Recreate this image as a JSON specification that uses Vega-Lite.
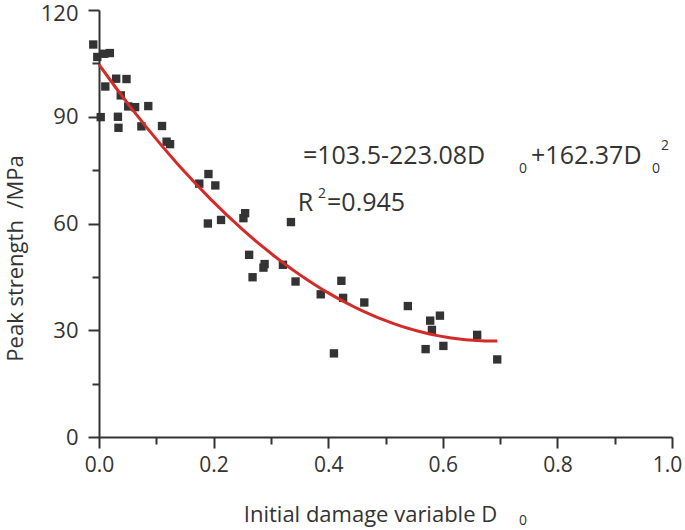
{
  "$schema": "https://vega.github.io/schema/vega-lite/v6.json",
  "autosize": "none",
  "width": 573,
  "height": 427,
  "padding": {"left": 99, "top": 10, "right": 13, "bottom": 93},
  "background": "white",
  "config": {
    "view": {"stroke": null},
    "font": "Open Sans",
    "axis": {"grid": false, "labelFont": "Open Sans", "titleFont": "Open Sans", "labelFontSize": 22, "titleFontSize": 22, "labelColor": "#333333", "titleColor": "#333333", "domainColor": "#333333", "tickColor": "#333333", "domainWidth": 2, "tickWidth": 2, "titleFontWeight": "normal", "labelFlush": false, "labelOverlap": false}
  },
  "datasets": {
    "pts": [
      {"x": -0.010, "y": 110.3}, {"x": -0.003, "y": 106.8}, {"x": 0.009, "y": 107.7}, {"x": 0.019, "y": 107.9},
      {"x": 0.003, "y": 89.9}, {"x": 0.011, "y": 98.5}, {"x": 0.030, "y": 100.7}, {"x": 0.048, "y": 100.6},
      {"x": 0.038, "y": 96.0}, {"x": 0.051, "y": 92.9}, {"x": 0.063, "y": 92.7}, {"x": 0.086, "y": 93.0},
      {"x": 0.033, "y": 90.0}, {"x": 0.034, "y": 86.9}, {"x": 0.074, "y": 87.3}, {"x": 0.110, "y": 87.4},
      {"x": 0.118, "y": 83.0}, {"x": 0.124, "y": 82.3}, {"x": 0.191, "y": 73.9}, {"x": 0.175, "y": 71.2},
      {"x": 0.203, "y": 70.7}, {"x": 0.255, "y": 62.9}, {"x": 0.252, "y": 61.5}, {"x": 0.190, "y": 60.0},
      {"x": 0.213, "y": 61.0}, {"x": 0.335, "y": 60.4}, {"x": 0.262, "y": 51.2}, {"x": 0.289, "y": 48.6},
      {"x": 0.287, "y": 47.6}, {"x": 0.268, "y": 44.9}, {"x": 0.321, "y": 48.4}, {"x": 0.343, "y": 43.7},
      {"x": 0.423, "y": 43.9}, {"x": 0.387, "y": 40.1}, {"x": 0.426, "y": 39.1}, {"x": 0.463, "y": 37.8},
      {"x": 0.539, "y": 36.8}, {"x": 0.595, "y": 34.1}, {"x": 0.578, "y": 32.7}, {"x": 0.581, "y": 30.1},
      {"x": 0.660, "y": 28.7}, {"x": 0.410, "y": 23.5}, {"x": 0.570, "y": 24.7}, {"x": 0.601, "y": 25.6},
      {"x": 0.695, "y": 21.8}
    ],
    "bigText": [
      {"x": 0.356, "y": 76.7, "t": "=103.5-223.08D"},
      {"x": 0.754, "y": 76.7, "t": "+162.37D"},
      {"x": 0.347, "y": 63.5, "t": "R"},
      {"x": 0.398, "y": 63.5, "t": "=0.945"}
    ],
    "smallText": [
      {"x": 0.733, "y": 74.1, "t": "0"},
      {"x": 0.965, "y": 74.1, "t": "0"},
      {"x": 0.981, "y": 80.6, "t": "2"},
      {"x": 0.382, "y": 67.2, "t": "2"},
      {"x": 0.733, "y": -24.8, "t": "0"}
    ]
  },
  "encoding": {
    "x": {"field": "x", "type": "quantitative", "scale": {"domain": [0, 1], "nice": false, "zero": false},
      "axis": {"title": "Initial damage variable D", "values": [0, 0.1, 0.2, 0.3, 0.4, 0.5, 0.6, 0.7, 0.8, 0.9, 1.0], "format": ".1f",
        "labelExpr": "round(datum.value*10) % 2 === 0 ? datum.label : ''",
        "labelFontSize": 21,
        "labelOffset": {"condition": {"test": "datum.value > 0.95", "value": -5}, "value": 0},
        "tickSize": {"condition": {"test": "round(datum.value*10) % 2 === 0", "value": 11}, "value": 7},
        "labelPadding": 6, "titleX": 271, "titleY": 84, "titleAlign": "center", "titleBaseline": "alphabetic"}},
    "y": {"field": "y", "type": "quantitative", "scale": {"domain": [0, 120], "nice": false},
      "axis": {"title": "Peak strength\u00a0\u00a0/MPa", "values": [0, 15, 30, 45, 60, 75, 90, 105, 120],
        "labelExpr": "datum.value % 30 === 0 ? datum.label : ''",
        "labelOffset": {"condition": {"test": "datum.value > 115", "value": 3}, "value": 0},
        "tickSize": {"condition": {"test": "datum.value % 30 === 0", "value": 11}, "value": 7},
        "labelPadding": 10, "titleX": -84, "titleY": 248, "titleAngle": -90, "titleAlign": "center", "titleBaseline": "middle"}}
  },
  "layer": [
    {
      "data": {"name": "pts"},
      "mark": {"type": "square", "size": 70, "color": "#333333", "opacity": 1}
    },
    {
      "data": {"name": "pts"},
      "transform": [{"regression": "y", "on": "x", "method": "poly", "order": 2, "extent": [0, 0.695]}],
      "mark": {"type": "line", "color": "#d32b27", "strokeWidth": 3}
    },
    {
      "data": {"name": "bigText"},
      "mark": {"type": "text", "align": "left", "baseline": "alphabetic", "fontSize": 25, "font": "Open Sans", "color": "#333333"},
      "encoding": {"text": {"field": "t"}}
    },
    {
      "data": {"name": "smallText"},
      "mark": {"type": "text", "align": "left", "baseline": "alphabetic", "fontSize": 14, "font": "Open Sans", "color": "#333333"},
      "encoding": {"text": {"field": "t"}}
    }
  ]
}
